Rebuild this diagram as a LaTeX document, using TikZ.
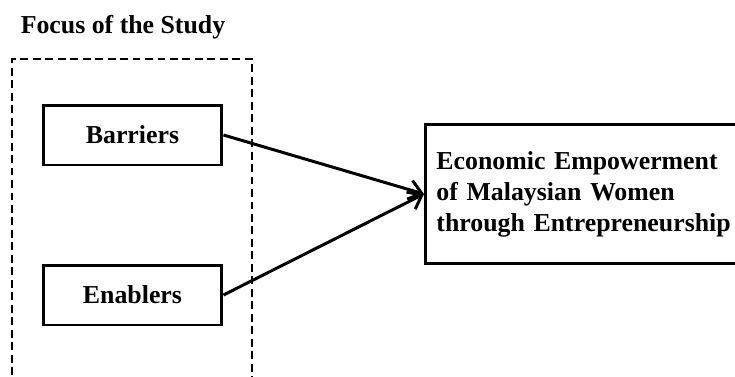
\documentclass[tikz,border=0pt]{standalone}
\usepackage{fontspec}
\setmainfont{Liberation Serif}
\usetikzlibrary{arrows.meta}
\usetikzlibrary{positioning}

\tikzset{
    factor/.style={draw, line width=1.7pt, minimum width=3.58cm, minimum height=1.2cm, font=\bfseries\fontsize{14.7}{17.6}\selectfont},
    outcome/.style={draw, line width=1.7pt, anchor=west, minimum width=6.6cm, minimum height=2.8cm, inner xsep=0.22cm, text width=6.16cm, align=left, font=\bfseries\fontsize{14.7}{17.6}\selectfont},
    link/.style={line width=1.7pt, -{Straight Barb[length=7pt,width=11pt,line width=1.7pt]}}
}

\begin{document}
\begin{tikzpicture}[x=0.02cm, y=-0.02cm]
    \useasboundingbox (0,0) rectangle (735,376);
    \clip (0,0) rectangle (735,376);

    %Focus of the study
    \node[font=\bfseries\fontsize{14.7}{17}\selectfont] (focus) at (123,27) {Focus of the Study};
    \draw[line width=1.7pt, dash pattern=on 4.5pt off 2.6pt] (12,400) -- (12,59) -- (252,59) -- (252,400);

    %Factors
    \node[factor] (barriers) at (132.5,135) {Barriers};
    \node[factor] (enablers) at (132.5,295) {Enablers};

    %Outcome
    \node[outcome] (empowerment) at (424,194) {Economic Empowerment\\of Malaysian Women\\through Entrepreneurship};

    %Links
    \draw[link] (barriers.east) -- (empowerment.west);
    \draw[link] (enablers.east) -- (empowerment.west);
\end{tikzpicture}
\end{document}
